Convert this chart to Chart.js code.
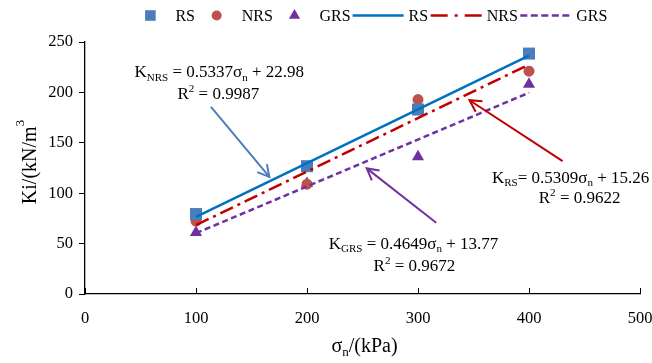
<!DOCTYPE html>
<html><head><meta charset="utf-8">
<script src="https://cdn.jsdelivr.net/npm/chart.js@4.4.0/dist/chart.umd.min.js"></script>
<style>html,body{margin:0;padding:0;background:#fff}#wrap{width:652px;height:363px}</style>
</head><body><div id="wrap"><canvas id="c" width="652" height="363"></canvas></div>
<script>
// ---- data ----
const stressLevels = [100, 200, 300, 400];
const rsMeasured  = [79.3, 126.8, 183.0, 238.5];
const nrsMeasured = [72.3, 109.0, 192.9, 221.0];
const grsMeasured = [61.1, 109.7, 136.1, 208.2];
const fitRange = [100, 400];
const rsFit  = [76.4, 236.5];
const nrsFit = [68.4, 227.6];
const grsFit = [60.3, 199.7];
const xTicks = [0, 100, 200, 300, 400, 500];
const yTicks = [0, 50, 100, 150, 200, 250];
const seriesLabels = ['RS', 'NRS', 'GRS', 'RS', 'NRS', 'GRS'];

const FONT = '"Liberation Serif","Times New Roman",serif';
const pts = (xs, ys) => xs.map((x, i) => ({x, y: ys[i]}));

// annotation texts / arrows in data coordinates
const notes = [
  {lines: [
     {segs: [{t:'K'},{t:'NRS',sub:1},{t:' = 0.5337'},{t:'σ'},{t:'n',sub:1},{t:' + 22.98'}], at: [121.0, 220.5]},
     {segs: [{t:'R'},{t:'2',sup:1},{t:' = 0.9987'}], at: [120.1, 199.2]}],
   arrow: {from: [113.5, 185.6], to: [166.1, 116.2], color: '#4A7EBB'}},
  {lines: [
     {segs: [{t:'K'},{t:'GRS',sub:1},{t:' = 0.4649'},{t:'σ'},{t:'n',sub:1},{t:' + 13.77'}], at: [295.9, 50.5]},
     {segs: [{t:'R'},{t:'2',sup:1},{t:' = 0.9672'}], at: [296.8, 28.7]}],
   arrow: {from: [316.4, 70.7], to: [253.8, 124.6], color: '#7030A0'}},
  {lines: [
     {segs: [{t:'K'},{t:'RS',sub:1},{t:'= 0.5309'},{t:'σ'},{t:'n',sub:1},{t:' + 15.26'}], at: [437.5, 115.9]},
     {segs: [{t:'R'},{t:'2',sup:1},{t:' = 0.9622'}], at: [445.6, 96.1]}],
   arrow: {from: [430.3, 131.8], to: [346.4, 192.2], color: '#C00000'}}
];

function segFont(s, size) {
  const sz = (s.sub || s.sup) ? size * 0.65 : size;
  return sz.toFixed(2) + 'px ' + FONT;
}
function drawRich(ctx, segs, cx, cy, size, supShift) {
  let total = 0;
  segs.forEach(s => { ctx.font = segFont(s, size); s.w = ctx.measureText(s.t).width; total += s.w; });
  let x = cx - total / 2;
  const base = cy + size * 0.33;
  ctx.textBaseline = 'alphabetic';
  ctx.textAlign = 'left';
  segs.forEach(s => {
    ctx.font = segFont(s, size);
    let y = base;
    if (s.sub) y += size * 0.2;
    if (s.sup) y -= size * (supShift || 0.38);
    ctx.fillText(s.t, x, y);
    x += s.w;
  });
}
function drawArrow(ctx, x1, y1, x2, y2, color) {
  ctx.strokeStyle = color; ctx.lineWidth = 2; ctx.setLineDash([]);
  ctx.beginPath(); ctx.moveTo(x1, y1); ctx.lineTo(x2, y2); ctx.stroke();
  const a = Math.atan2(y2 - y1, x2 - x1), L = 13, sp = 0.5;
  ctx.beginPath();
  ctx.moveTo(x2 - L * Math.cos(a - sp), y2 - L * Math.sin(a - sp));
  ctx.lineTo(x2, y2);
  ctx.lineTo(x2 - L * Math.cos(a + sp), y2 - L * Math.sin(a + sp));
  ctx.stroke();
}
function drawMarker(ctx, style, x, y, r, color) {
  ctx.fillStyle = color;
  ctx.beginPath();
  if (style === 'rect') { const s = r * Math.SQRT1_2; ctx.rect(x - s, y - s, 2 * s, 2 * s); }
  else if (style === 'circle') { ctx.arc(x, y, r, 0, Math.PI * 2); }
  else if (style === 'triangle') {
    ctx.moveTo(x, y - r);
    ctx.lineTo(x + Math.sin(2*Math.PI/3) * r, y - Math.cos(2*Math.PI/3) * r);
    ctx.lineTo(x + Math.sin(4*Math.PI/3) * r, y - Math.cos(4*Math.PI/3) * r);
    ctx.closePath();
  }
  ctx.fill();
}

const extras = {
  id: 'extras',
  afterDraw(chart) {
    const ctx = chart.ctx, xs = chart.scales.x, ys = chart.scales.y, area = chart.chartArea;
    ctx.save();
    // inward x tick marks
    ctx.strokeStyle = '#000'; ctx.lineWidth = 1;
    xs.ticks.forEach(t => {
      const px = Math.round(xs.getPixelForValue(t.value)) + 0.5;
      ctx.beginPath(); ctx.moveTo(px, area.bottom); ctx.lineTo(px, area.bottom - 6); ctx.stroke();
    });
    // annotations
    notes.forEach(n => {
      const a = n.arrow;
      drawArrow(ctx, xs.getPixelForValue(a.from[0]), ys.getPixelForValue(a.from[1]),
                xs.getPixelForValue(a.to[0]), ys.getPixelForValue(a.to[1]), a.color);
      ctx.fillStyle = '#000';
      n.lines.forEach(l => drawRich(ctx, l.segs, xs.getPixelForValue(l.at[0]), ys.getPixelForValue(l.at[1]), 17));
    });
    // axis titles
    ctx.fillStyle = '#000';
    drawRich(ctx, [{t:'σ'},{t:'n',sub:1},{t:'/(kPa)'}], (area.left + area.right) / 2 + 2, 345, 20);
    ctx.save();
    ctx.translate(29, (area.top + area.bottom) / 2 - 6);
    ctx.rotate(-Math.PI / 2);
    drawRich(ctx, [{t:'Ki/(kN/m'},{t:'3',sup:1}], 0, 0, 20, 0.6);
    ctx.restore();
    // legend
    const ly = 15.5;
    let x = 150.4;
    ctx.textBaseline = 'middle'; ctx.textAlign = 'left';
    ctx.font = '16px ' + FONT;
    chart.data.datasets.forEach((ds, i) => {
      const label = ds.label;
      const w = ctx.measureText(label).width;
      if (ds.showLine === false) {
        drawMarker(ctx, ds.pointStyle, x, ly, ds.legendRadius, ds.backgroundColor);
        ctx.fillStyle = '#000';
        ctx.fillText(label, x + 25, ly + 1);
        const end = x + 25 + w;
        const next = chart.data.datasets[i + 1];
        x = (next && next.showLine === false) ? end + 21.7 : end + 2;
      } else {
        ctx.strokeStyle = ds.borderColor; ctx.lineWidth = ds.borderWidth;
        ctx.setLineDash(ds.legendDash || []);
        ctx.beginPath(); ctx.moveTo(x, ly); ctx.lineTo(x + 51, ly); ctx.stroke();
        ctx.setLineDash([]);
        ctx.fillStyle = '#000';
        ctx.fillText(label, x + 56, ly + 1);
        x = x + 56 + w + 2.5;
      }
    });
    ctx.restore();
  }
};

new Chart(document.getElementById('c'), {
  type: 'scatter',
  data: {
    datasets: [
      {label: seriesLabels[0], data: pts(stressLevels, rsMeasured), showLine: false, pointStyle: 'rect', pointRadius: 8.5, legendRadius: 7.5,
       backgroundColor: '#4A7EBB', borderColor: '#4A7EBB', borderWidth: 0, order: 2},
      {label: seriesLabels[1], data: pts(stressLevels, nrsMeasured), showLine: false, pointStyle: 'circle', pointRadius: 5.5, legendRadius: 5,
       backgroundColor: '#C0504D', borderColor: '#C0504D', borderWidth: 0, order: 2},
      {label: seriesLabels[2], data: pts(stressLevels, grsMeasured), showLine: false, pointStyle: 'triangle', pointRadius: 7, legendRadius: 6.5,
       backgroundColor: '#7030A0', borderColor: '#7030A0', borderWidth: 0, order: 2},
      {label: seriesLabels[3], data: pts(fitRange, rsFit), showLine: true, pointRadius: 0, borderColor: '#0070C0', borderWidth: 2.5,
       backgroundColor: '#0070C0', order: 1},
      {label: seriesLabels[4], data: pts(fitRange, nrsFit), showLine: true, pointRadius: 0, borderColor: '#C00000', borderWidth: 2.5,
       borderDash: [14, 5, 3, 5], legendDash: [17, 7, 3, 7], backgroundColor: '#C00000', order: 1},
      {label: seriesLabels[5], data: pts(fitRange, grsFit), showLine: true, pointRadius: 0, borderColor: '#7030A0', borderWidth: 2.5,
       borderDash: [6, 3.5], legendDash: [7, 3.5], backgroundColor: '#7030A0', order: 1}
    ]
  },
  options: {
    responsive: false, animation: false, devicePixelRatio: 1,
    layout: {padding: {left: 0, right: 12, top: 42, bottom: 0}},
    plugins: {legend: {display: false}, tooltip: {enabled: false}},
    scales: {
      x: {type: 'linear', min: 0, max: 500,
          afterBuildTicks: s => { s.ticks = xTicks.map(v => ({value: v})); },
          afterFit: s => { s.height = 69; s.paddingLeft = 0; s.paddingRight = 0; },
          grid: {display: false}, border: {display: true, color: '#000', width: 1.3},
          ticks: {color: '#000', font: {family: FONT, size: 16.5}, padding: 7, maxRotation: 0}},
      y: {type: 'linear', min: 0, max: 250,
          afterBuildTicks: s => { s.ticks = yTicks.map(v => ({value: v})); },
          afterFit: s => { s.width = 85; },
          grid: {drawOnChartArea: false, drawTicks: true, tickLength: 6, color: '#000', lineWidth: 1},
          border: {display: true, color: '#000', width: 1.3},
          ticks: {color: '#000', font: {family: FONT, size: 16.5}, padding: 6}}
    }
  },
  plugins: [extras]
});
</script>
</body></html>
